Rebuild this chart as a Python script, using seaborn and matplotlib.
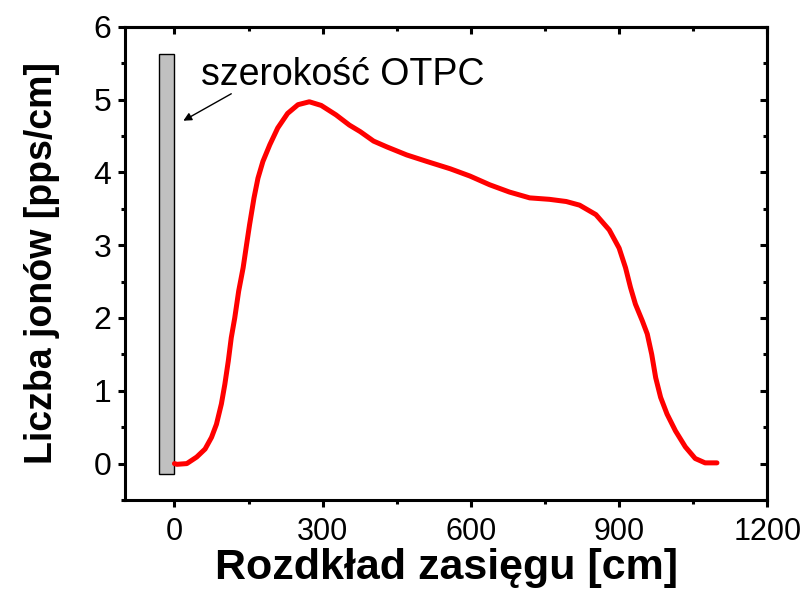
import matplotlib
matplotlib.use("Agg")
import matplotlib.pyplot as plt
from matplotlib.ticker import MultipleLocator
import seaborn as sns
import pandas as pd

# Range distribution of ions along the chamber
range_cm = [0, 5, 25, 45, 62, 75, 85, 95, 102, 109, 115, 122, 130, 139, 146,
            152, 161, 169, 179, 193, 209, 229, 250, 273, 297, 327, 354, 376,
            403, 430, 470, 511, 558, 598, 638, 678, 719, 759, 793, 820, 853,
            880, 900, 913, 923, 933, 947, 957, 966, 974, 984, 997, 1014, 1034,
            1054, 1074, 1098]
ion_count = [0.00, -0.01, 0.00, 0.09, 0.20, 0.36, 0.54, 0.82, 1.09, 1.41, 1.73,
             2.00, 2.37, 2.69, 3.01, 3.28, 3.65, 3.92, 4.15, 4.38, 4.61, 4.81,
             4.93, 4.97, 4.92, 4.79, 4.65, 4.56, 4.43, 4.35, 4.24, 4.15, 4.05,
             3.95, 3.83, 3.73, 3.65, 3.63, 3.60, 3.55, 3.42, 3.21, 2.96, 2.69,
             2.42, 2.19, 1.96, 1.78, 1.50, 1.18, 0.91, 0.68, 0.45, 0.23, 0.07,
             0.01, 0.01]

# Chamber (OTPC) extent drawn as a grey bar
otpc_left = -32
otpc_right = 0
otpc_bottom = -0.14
otpc_top = 5.62

xticks = [0, 300, 600, 900, 1200]
yticks = [0, 1, 2, 3, 4, 5, 6]

sns.set_style("ticks")
plt.rcParams["font.family"] = ["Liberation Sans", "DejaVu Sans"]
plt.rcParams["text.color"] = "black"
plt.rcParams["axes.labelcolor"] = "black"

df = pd.DataFrame({"range": range_cm, "ions": ion_count})

fig = plt.figure(figsize=(8.12, 6.09), dpi=100)
ax = fig.add_axes([0.154, 0.179, 0.791, 0.777])

ax.bar(x=(otpc_left + otpc_right) / 2, height=otpc_top - otpc_bottom,
       bottom=otpc_bottom, width=otpc_right - otpc_left,
       color="#c0c0c0", edgecolor="black", linewidth=1.0, zorder=2)

sns.lineplot(data=df, x="range", y="ions", ax=ax, color="#ff0000",
             linewidth=3.6, zorder=3)

ax.set_xlim(-100, 1200)
ax.set_ylim(-0.5, 6)
ax.set_xticks(xticks)
ax.set_yticks(yticks)
ax.xaxis.set_minor_locator(MultipleLocator(150))
ax.yaxis.set_minor_locator(MultipleLocator(0.5))

for s in ax.spines.values():
    s.set_linewidth(2.2)
    s.set_color("black")

ax.tick_params(which="major", direction="out", length=5, width=2.2, pad=5,
               labelsize=23, colors="black")
ax.tick_params(axis="x", which="major", labelsize=22, pad=7)
ax.tick_params(which="minor", direction="out", length=3, width=2.2,
               colors="black")

# mirrored ticks on top and right, pointing inward
top = ax.secondary_xaxis("top")
top.set_xticks(xticks)
top.xaxis.set_minor_locator(MultipleLocator(150))
top.tick_params(which="major", direction="in", length=5, width=2.2,
                labeltop=False, colors="black")
top.tick_params(which="minor", direction="in", length=3, width=2.2,
                colors="black")
top.spines["top"].set_linewidth(2.2)
right = ax.secondary_yaxis("right")
right.set_yticks(yticks)
right.yaxis.set_minor_locator(MultipleLocator(0.5))
right.tick_params(which="major", direction="in", length=5, width=2.2,
                  labelright=False, colors="black")
right.tick_params(which="minor", direction="in", length=3, width=2.2,
                  colors="black")
right.spines["right"].set_linewidth(2.2)

ax.set_xlabel("Rozdkład zasięgu [cm]", fontsize=31, fontweight="bold",
              labelpad=1)
ax.set_ylabel("Liczba jonów [pps/cm]", fontsize=27, fontweight="bold",
              labelpad=24)

ax.text(54, 5.2, "szerokość OTPC", fontsize=27, ha="left", va="baseline")
ax.annotate("", xy=(18, 4.71), xytext=(115, 5.08),
            arrowprops=dict(arrowstyle="-|>", color="black", lw=1.0,
                            mutation_scale=12, shrinkA=0, shrinkB=0))

fig.savefig("out.png", dpi=100)
